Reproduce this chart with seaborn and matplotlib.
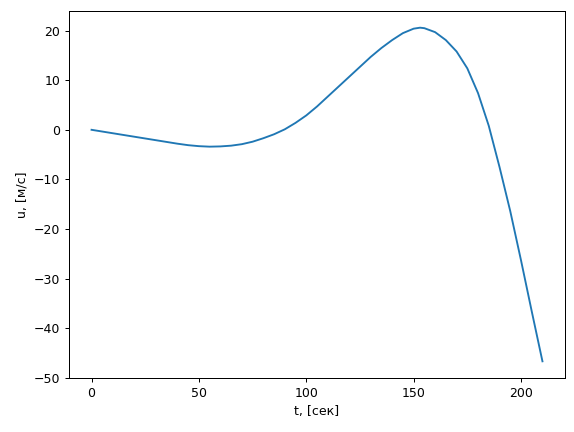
"""Скорость u(t)"""

import matplotlib
matplotlib.use('Agg')
import matplotlib.pyplot as plt
import seaborn as sns

# time, seconds
t = [0, 5, 10, 15, 20, 25, 30, 35, 40, 45, 50, 55, 60, 65, 70, 75, 80,
     85, 90, 95, 100, 105, 110, 115, 120, 125, 130, 135, 140, 145, 150,
     153, 155, 160, 165, 170, 175, 180, 185, 190, 195, 200, 205, 210]
# velocity, m/s
u = [0, -0.35, -0.7, -1.05, -1.4, -1.75, -2.1, -2.45, -2.8, -3.1, -3.3,
     -3.4, -3.35, -3.2, -2.9, -2.4, -1.7, -0.9, 0.1, 1.4, 2.9, 4.7, 6.7,
     8.7, 10.7, 12.7, 14.7, 16.5, 18.1, 19.5, 20.4, 20.6, 20.5, 19.7,
     18.1, 15.8, 12.4, 7.4, 0.8, -7.5, -16.4, -26.3, -36.6, -46.7]

fig, ax = plt.subplots(figsize=(574 / 90, 432 / 90), dpi=90)
fig.subplots_adjust(left=69 / 574, right=565 / 574,
                    top=1 - 11 / 432, bottom=1 - 378 / 432)
sns.lineplot(x=t, y=u, ax=ax, estimator=None, sort=False, color='#1f77b4')
ax.set_xlabel('t, [сек]')
ax.set_ylabel('u, [м/с]')
fig.savefig('out.png', dpi=90)
